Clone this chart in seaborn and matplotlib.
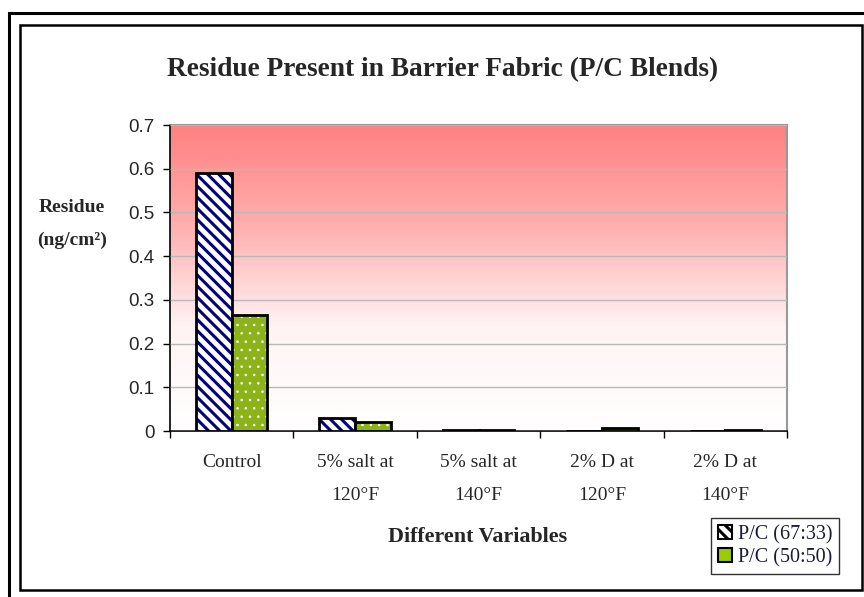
import numpy as np
import pandas as pd
import matplotlib.pyplot as plt
import seaborn as sns
from matplotlib.patches import Rectangle, Patch
from matplotlib.colors import LinearSegmentedColormap, to_rgba

# Data
categories = ["Control", "5% salt at\n120°F", "5% salt at\n140°F", "2% D at\n120°F", "2% D at\n140°F"]
series_names = ["P/C (67:33)", "P/C (50:50)"]
pc_67_33 = [0.59, 0.03, 0.003, 0.0, 0.0]
pc_50_50 = [0.265, 0.02, 0.003, 0.008, 0.003]

df = pd.DataFrame({
    "category": categories * 2,
    "blend": [series_names[0]] * 5 + [series_names[1]] * 5,
    "residue": pc_67_33 + pc_50_50,
})

sns.set_style("white")
plt.rcParams["hatch.linewidth"] = 2.2

fig = plt.figure(figsize=(8.64, 5.97), dpi=100)

# double frame around the whole chart
fig.patches.append(Rectangle((9 / 864, -0.2), 1.2, 1.2 - 13 / 597, transform=fig.transFigure,
                             fill=False, edgecolor="black", linewidth=2.2, zorder=0))
fig.patches.append(Rectangle((20 / 864, 1 - 590 / 597), 842 / 864, 565 / 597, transform=fig.transFigure,
                             fill=False, edgecolor="black", linewidth=1.8, zorder=0))

ax = fig.add_axes([170 / 864, 1 - 431 / 597, 617 / 864, 306 / 597])

# red-to-white gradient background
cmap = LinearSegmentedColormap.from_list("bg", ["#FFFFFF", "#FFF4F4", "#FFB0B0", "#FF8080"])
grad = np.linspace(0, 1, 256).reshape(-1, 1)
ax.imshow(grad, aspect="auto", cmap=cmap, origin="lower", extent=[0, 1, 0, 1],
          transform=ax.transAxes, zorder=0)

sns.barplot(data=df, x="category", y="residue", hue="blend", hue_order=series_names,
            palette=["white", "#99CC00"], width=0.58, gap=0, edgecolor="black",
            linewidth=2, ax=ax, legend=False, zorder=3)

hatches = ["\\\\\\", ".."]
hatch_cols = ["#000080", "white"]
hatch_lws = [2.2, 0.6]
for cont, h, hc, hlw in zip(ax.containers, hatches, hatch_cols, hatch_lws):
    for bar in cont:
        bar.set_hatch(h)
        bar._hatch_color = to_rgba(hc)
        if hasattr(bar, "set_hatch_linewidth"):
            bar.set_hatch_linewidth(hlw)

ax.set_ylim(0, 0.7)
ax.set_xlim(-0.5, 4.5)
ax.set_yticks(np.arange(0, 0.71, 0.1))
ax.set_yticklabels(["0", "0.1", "0.2", "0.3", "0.4", "0.5", "0.6", "0.7"],
                   fontsize=13.5, family="Liberation Sans")
ax.yaxis.grid(True, color="#B8B8B8", linewidth=1, zorder=1)
ax.set_axisbelow(False)
for gl in ax.get_ygridlines():
    gl.set_zorder(1)

# category labels between ticks, ticks at group boundaries
ax.set_xticks(np.arange(-0.5, 5, 1))
ax.set_xticklabels([])
ax.tick_params(axis="x", direction="out", length=5, width=1, color="black", bottom=True)
ax.tick_params(axis="y", direction="out", length=5, width=1, color="black", left=True, pad=6)
for i, c in enumerate(categories):
    ax.text(i, -0.053, c, ha="center", va="top", fontsize=14, family="Liberation Serif",
            linespacing=2.2)

for side in ["left", "bottom"]:
    ax.spines[side].set_color("black")
    ax.spines[side].set_linewidth(1.2)
for side in ["top", "right"]:
    ax.spines[side].set_color("#999999")
    ax.spines[side].set_linewidth(1.5)

ax.set_xlabel("")
ax.set_ylabel("")
fig.text(72 / 864, 1 - 224 / 597, "Residue\n(ng/cm²)", ha="center", va="center",
         fontsize=14, fontweight="bold", family="Liberation Serif", linespacing=2.2)
fig.text(478 / 864, 1 - 537 / 597, "Different Variables", ha="center", va="center",
         fontsize=15.8, fontweight="bold", family="Liberation Serif")
fig.text(443 / 864, 1 - 70 / 597, "Residue Present in Barrier Fabric (P/C Blends)",
         ha="center", va="center", fontsize=19.7, fontweight="bold", family="Liberation Serif")

handles = [Patch(facecolor="white", edgecolor="black", hatch="\\\\\\", linewidth=1.5),
           Patch(facecolor="#99CC00", edgecolor="black", linewidth=1.5)]
leg = fig.legend(handles, series_names, loc="center", bbox_to_anchor=(775 / 864, 1 - 546 / 597),
                 frameon=True, fancybox=False, edgecolor="black", handlelength=0.7,
                 handleheight=0.7, handletextpad=0.3, borderpad=0.35, labelspacing=0.2,
                 prop={"family": "Liberation Serif", "size": 14.5})
leg.get_frame().set_linewidth(1)
for t in leg.get_texts():
    t.set_color("#1a1a3a")

fig.savefig("out.png", dpi=100)
